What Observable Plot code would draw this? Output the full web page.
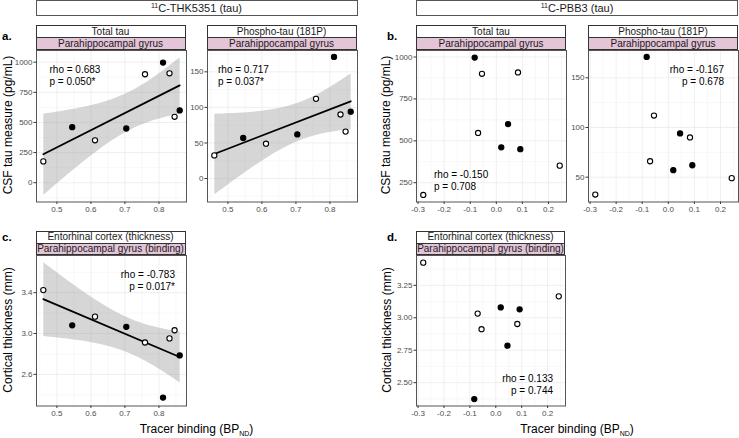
<!DOCTYPE html>
<html><head><meta charset="utf-8">
<script src="https://cdn.jsdelivr.net/npm/d3@7"></script>
<script src="https://cdn.jsdelivr.net/npm/@observablehq/plot@0.6"></script>
<style>
html,body{margin:0;padding:0;background:#fff;}
#fig{position:relative;width:739px;height:438px;overflow:hidden;font-family:"Liberation Sans",Arial,Helvetica,sans-serif;color:#1a1a1a;}
#fig svg{position:absolute;}
.box{position:absolute;box-sizing:border-box;border:1px solid #555;text-align:center;white-space:nowrap;}
.lab{position:absolute;white-space:nowrap;}
.sup{font-size:7px;position:relative;top:-4px;}
.sub{font-size:7px;position:relative;top:3px;}
</style>
</head><body>
<div id="fig"></div>
<script>
// ---- data (one entry per participant) ----
const group        = ["open","filled","open","filled","open","filled","open","open","filled"];
const thkBinding   = [0.46, 0.545, 0.612, 0.704, 0.759, 0.812, 0.831, 0.846, 0.861];
const pbb3Binding  = [-0.28, 0.019, 0.243, 0.092, -0.055, -0.083, 0.083, -0.070, 0.045];
const totalTau     = [177, 461, 352, 450, 900, 997, 908, 547, 600];
const phosphoTau   = [32.5, 57, 49, 62, 112, 171, 90, 66, 94];
const thickness    = [3.425, 3.08, 3.165, 3.065, 2.912, 2.373, 2.952, 3.032, 2.785];

// ---- tick labels ----
const thkTicks   = [0.5, 0.6, 0.7, 0.8];
const thkMinor   = [0.45, 0.55, 0.65, 0.75, 0.85];
const pbbTicks   = [-0.3, -0.2, -0.1, 0.0, 0.1, 0.2];
const pbbMinor   = [-0.25, -0.15, -0.05, 0.05, 0.15, 0.25];
const tauTicksA  = [0, 250, 500, 750, 1000];
const tauMinorA  = [-125, 125, 375, 625, 875];
const tauTicksB  = [250, 500, 750, 1000];
const tauMinorB  = [375, 625, 875];
const pTauTicksA = [0, 50, 100, 150];
const pTauMinorA = [-25, 25, 75, 125, 175];
const pTauTicksB = [50, 100, 150];
const pTauMinorB = [75, 125, 175];
const thkTicksC  = [2.6, 3.0, 3.4];
const thkMinorC  = [2.4, 2.8, 3.2, 3.6];
const thkTicksD  = [2.5, 2.75, 3.0, 3.25];
const thkMinorD  = [2.375, 2.625, 2.875, 3.125, 3.375];

const stats = {
  aTotal: "rho = 0.683\np = 0.050*",
  aPhos:  "rho = 0.717\np = 0.037*",
  bTotal: "rho = -0.150\np = 0.708",
  bPhos:  "rho = -0.167\np = 0.678",
  cThick: "rho = -0.783\np = 0.017*",
  dThick: "rho = 0.133\np = 0.744"
};

const fig = document.getElementById("fig");
const PINK = "#e4c5d8";

function div(cls, html, style) {
  const d = document.createElement("div");
  d.className = cls; d.innerHTML = html;
  Object.assign(d.style, style);
  fig.append(d);
  return d;
}
function strips(x0, x1, yTop, yMid, yBot, t1, t2) {
  div("box", t1, {left:x0+"px", top:yTop+"px", width:(x1-x0)+"px", height:(yMid-yTop+1)+"px",
    background:"#fff", fontSize:"10px", lineHeight:(yMid-yTop-1)+"px", borderColor:"#333"});
  div("box", t2, {left:x0+"px", top:yMid+"px", width:(x1-x0)+"px", height:(yBot-yMid+0.5)+"px",
    background:PINK, fontSize:"10px", lineHeight:(yBot-yMid-1.5)+"px", borderColor:"#333"});
}

const fmt1 = d => d.toFixed(1), fmt2 = d => d.toFixed(2), fmt0 = d => String(d);

function panel(o) {
  const mL = 30, mR = 2, mT = 2, mB = 16;
  const w = o.x1 - o.x0, h = o.y1 - o.y0;
  const data = o.x.map((xv, i) => ({x: xv, y: o.y[i], g: group[i]}));
  const marks = [
    Plot.gridX(o.xMinor, {stroke:"#f4f4f4", strokeOpacity:1, strokeWidth:0.6}),
    Plot.gridY(o.yMinor, {stroke:"#f4f4f4", strokeOpacity:1, strokeWidth:0.6}),
    Plot.gridX(o.xTicks, {stroke:"#ebebeb", strokeOpacity:1, strokeWidth:0.8}),
    Plot.gridY(o.yTicks, {stroke:"#ebebeb", strokeOpacity:1, strokeWidth:0.8})
  ];
  if (o.fit) marks.push(Plot.linearRegressionY(data, {x:"x", y:"y", ci:0.95,
      stroke:"#000", strokeWidth:1.8, fill:"#999", fillOpacity:0.4}));
  marks.push(Plot.dot(data, {x:"x", y:"y", r:2.6, stroke:"#000", strokeWidth:1.1,
      fill: d => d.g === "filled" ? "#000" : "#fff"}));
  marks.push(Plot.text([o.note], {text: d => d, frameAnchor: o.anchor, dx: o.dx, dy: o.dy,
      lineAnchor: o.anchor.startsWith("top") ? "top" : "bottom",
      textAnchor: o.anchor.endsWith("left") ? "start" : "end",
      fontSize: 10, lineHeight: 1.2, fill: "#000"}));
  marks.push(Plot.axisX(o.xTicks, {tickSize:2.5, tickPadding:2, fontSize:8, fill:"#4d4d4d",
      stroke:"#333", tickFormat:o.xFmt, label:null}));
  marks.push(Plot.axisY(o.yTicks, {tickSize:2.5, tickPadding:1.5, fontSize:8, fill:"#4d4d4d",
      stroke:"#333", tickFormat:o.yFmt, label:null}));
  marks.push(Plot.frame({stroke:"#555", strokeWidth:1}));
  const svg = Plot.plot({
    width: w + mL + mR, height: h + mT + mB,
    marginLeft: mL, marginRight: mR, marginTop: mT, marginBottom: mB,
    x: {domain: o.xDomain}, y: {domain: o.yDomain},
    style: {background:"transparent", fontFamily:"Liberation Sans, Arial, sans-serif", overflow:"visible"},
    marks
  });
  svg.style.left = (o.x0 - mL) + "px";
  svg.style.top = (o.y0 - mT) + "px";
  fig.append(svg);
}

// ---- headers ----
div("box", '<span class="sup">11</span>C-THK5351 (tau)', {left:"35.5px", top:"0px", width:"322px", height:"16px", fontSize:"11px", lineHeight:"14px", background:"#fff"});
div("box", '<span class="sup">11</span>C-PBB3 (tau)', {left:"416px", top:"0px", width:"322px", height:"16px", fontSize:"11px", lineHeight:"14px", background:"#fff"});

// panel letters
div("lab", "a.", {left:"2px", top:"30px", fontSize:"11.5px", fontWeight:"bold", color:"#000"});
div("lab", "b.", {left:"387px", top:"30px", fontSize:"11.5px", fontWeight:"bold", color:"#000"});
div("lab", "c.", {left:"2px", top:"231px", fontSize:"11.5px", fontWeight:"bold", color:"#000"});
div("lab", "d.", {left:"387px", top:"231px", fontSize:"11.5px", fontWeight:"bold", color:"#000"});

// ---- panels ----
const rowA = {y0:49.5, y1:201};
const rowC = {y0:254.5, y1:405};

panel({x0:35.5, x1:185.5, ...rowA, x:thkBinding, y:totalTau, xDomain:[0.44,0.881], yDomain:[-160,1097],
  xTicks:thkTicks, xMinor:thkMinor, yTicks:tauTicksA, yMinor:tauMinorA, xFmt:fmt1, yFmt:fmt0,
  fit:true, note:stats.aTotal, anchor:"top-left", dx:13, dy:14});
panel({x0:206.5, x1:356.5, ...rowA, x:thkBinding, y:phosphoTau, xDomain:[0.44,0.881], yDomain:[-33,180],
  xTicks:thkTicks, xMinor:thkMinor, yTicks:pTauTicksA, yMinor:pTauMinorA, xFmt:fmt1, yFmt:fmt0,
  fit:true, note:stats.aPhos, anchor:"top-left", dx:10.5, dy:14});
panel({x0:416, x1:566, ...rowA, x:pbb3Binding, y:totalTau, xDomain:[-0.306,0.269], yDomain:[135,1039],
  xTicks:pbbTicks, xMinor:pbbMinor, yTicks:tauTicksB, yMinor:tauMinorB, xFmt:fmt1, yFmt:fmt0,
  fit:false, note:stats.bTotal, anchor:"bottom-left", dx:17.5, dy:-12});
panel({x0:588, x1:738, ...rowA, x:pbb3Binding, y:phosphoTau, xDomain:[-0.306,0.269], yDomain:[25,177.5],
  xTicks:pbbTicks, xMinor:pbbMinor, yTicks:pTauTicksB, yMinor:pTauMinorB, xFmt:fmt1, yFmt:fmt0,
  fit:false, note:stats.bPhos, anchor:"top-right", dx:-14.5, dy:14});
panel({x0:35.5, x1:185.5, ...rowC, x:thkBinding, y:thickness, xDomain:[0.44,0.881], yDomain:[2.29,3.764],
  xTicks:thkTicks, xMinor:thkMinor, yTicks:thkTicksC, yMinor:thkMinorC, xFmt:fmt1, yFmt:fmt1,
  fit:true, note:stats.cThick, anchor:"top-right", dx:-11.5, dy:14});
panel({x0:416, x1:565, ...rowC, x:pbb3Binding, y:thickness, xDomain:[-0.306,0.269], yDomain:[2.32,3.48],
  xTicks:pbbTicks, xMinor:pbbMinor, yTicks:thkTicksD, yMinor:thkMinorD, xFmt:fmt1, yFmt:fmt2,
  fit:false, note:stats.dThick, anchor:"bottom-right", dx:-12.5, dy:-12});

// ---- strips ----
strips(35.5, 185.5, 25, 37, 49.5, "Total tau", "Parahippocampal gyrus");
strips(206.5, 356.5, 25, 37, 49.5, "Phospho-tau (181P)", "Parahippocampal gyrus");
strips(416, 566, 25, 37, 49.5, "Total tau", "Parahippocampal gyrus");
strips(588, 738, 25, 37, 49.5, "Phospho-tau (181P)", "Parahippocampal gyrus");
strips(35.5, 185.5, 231, 242.5, 254.5, "Entorhinal cortex (thickness)", "Parahippocampal gyrus (binding)");
strips(416, 565, 231, 242.5, 254.5, "Entorhinal cortex (thickness)", "Parahippocampal gyrus (binding)");

// ---- axis titles ----
function yTitle(text, cx, cy) {
  div("lab", text, {left:cx+"px", top:cy+"px", fontSize:"12px", color:"#000",
    transform:"translate(-50%,-50%) rotate(-90deg)"});
}
yTitle("CSF tau measure (pg/mL)", 8, 125);
yTitle("CSF tau measure (pg/mL)", 386, 125);
yTitle("Cortical thickness (mm)", 8, 330);
yTitle("Cortical thickness (mm)", 387, 330);
function xTitle(cx) {
  div("lab", 'Tracer binding (BP<span class="sub">ND</span>)', {left:cx+"px", top:"429px", fontSize:"12px", color:"#000",
    transform:"translate(-50%,-50%)"});
}
xTitle(196.5);
xTitle(577);
</script>
</body></html>
